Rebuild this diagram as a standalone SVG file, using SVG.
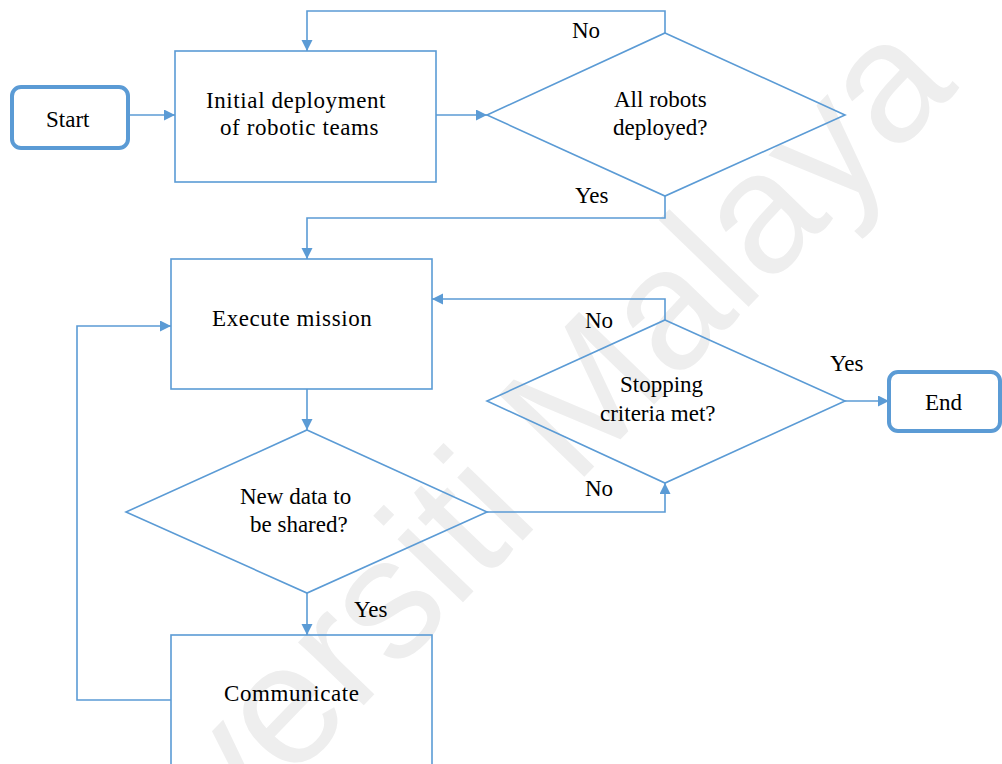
<svg xmlns="http://www.w3.org/2000/svg" width="1002" height="764" viewBox="0 0 1002 764">
<defs>
<marker id="ah" markerUnits="userSpaceOnUse" markerWidth="12" markerHeight="12" refX="11" refY="5.5" orient="auto">
<path d="M0,0 L11,5.5 L0,11 z" fill="#5B9BD5"/>
</marker>
</defs>
<rect width="1002" height="764" fill="#FFFFFF"/>
<text font-family="'Liberation Sans'" font-size="172" fill="#EEEEEE" x="50" y="1030" transform="rotate(-46 50 1030)">Universiti Malaya</text>
<g id="connectors" fill="none" stroke="#5B9BD5" stroke-width="1.6">
<path d="M128,115 L175,115" marker-end="url(#ah)"/>
<path d="M436,115 L487,115" marker-end="url(#ah)"/>
<path d="M665,33 L665,11 L307,11 L307,51" marker-end="url(#ah)"/>
<path d="M665,196 L665,218 L307,218 L307,259" marker-end="url(#ah)"/>
<path d="M307,389 L307,430" marker-end="url(#ah)"/>
<path d="M307,593 L307,635" marker-end="url(#ah)"/>
<path d="M171,700 L77,700 L77,326 L171,326" marker-end="url(#ah)"/>
<path d="M487,512 L665,512 L665,483" marker-end="url(#ah)"/>
<path d="M665,320 L665,299 L432,299" marker-end="url(#ah)"/>
<path d="M845,401 L889,401" marker-end="url(#ah)"/>
</g>
<text x="572" y="38" font-size="23" font-family="'Liberation Serif'">No</text>
<text x="575" y="203" font-size="23" font-family="'Liberation Serif'">Yes</text>
<text x="585" y="328" font-size="23" font-family="'Liberation Serif'">No</text>
<text x="830" y="371" font-size="23" font-family="'Liberation Serif'">Yes</text>
<text x="585" y="496" font-size="23" font-family="'Liberation Serif'">No</text>
<text x="354" y="617" font-size="23" font-family="'Liberation Serif'">Yes</text>
<g id="start">
<rect x="12" y="87" width="116" height="61" rx="9" fill="none" stroke="#5B9BD5" stroke-width="4"/>
<text x="46" y="127" font-size="23" font-family="'Liberation Serif'">Start</text>
</g>
<g id="initial">
<rect x="175" y="51" width="261" height="131" fill="none" stroke="#5B9BD5" stroke-width="1.6"/>
<text x="206" y="108" font-size="23" font-family="'Liberation Serif'" letter-spacing="0.6">Initial deployment</text>
<text x="220" y="135" font-size="23" font-family="'Liberation Serif'" letter-spacing="0.6">of robotic teams</text>
</g>
<g id="allDeployed">
<polygon points="665,33 845,115 665,196 487,115" fill="none" stroke="#5B9BD5" stroke-width="1.6"/>
<text x="614" y="107" font-size="23" font-family="'Liberation Serif'">All robots</text>
<text x="613" y="135" font-size="23" font-family="'Liberation Serif'">deployed?</text>
</g>
<g id="execute">
<rect x="171" y="259" width="261" height="130" fill="none" stroke="#5B9BD5" stroke-width="1.6"/>
<text x="212" y="326" font-size="23" font-family="'Liberation Serif'" letter-spacing="0.6">Execute mission</text>
</g>
<g id="newData">
<polygon points="307,430 487,512 307,593 126,512" fill="none" stroke="#5B9BD5" stroke-width="1.6"/>
<text x="240" y="504" font-size="23" font-family="'Liberation Serif'">New data to</text>
<text x="250" y="532" font-size="23" font-family="'Liberation Serif'">be shared?</text>
</g>
<g id="stopping">
<polygon points="665,320 845,401 665,483 487,401" fill="none" stroke="#5B9BD5" stroke-width="1.6"/>
<text x="620" y="392" font-size="23" font-family="'Liberation Serif'">Stopping</text>
<text x="600" y="421" font-size="23" font-family="'Liberation Serif'">criteria met?</text>
</g>
<g id="end">
<rect x="889" y="372" width="111" height="59" rx="9" fill="none" stroke="#5B9BD5" stroke-width="4"/>
<text x="925" y="410" font-size="23" font-family="'Liberation Serif'">End</text>
</g>
<g id="communicate">
<rect x="171" y="635" width="261" height="160" fill="none" stroke="#5B9BD5" stroke-width="1.6"/>
<text x="224" y="701" font-size="23" font-family="'Liberation Serif'" letter-spacing="0.6">Communicate</text>
</g>
</svg>
